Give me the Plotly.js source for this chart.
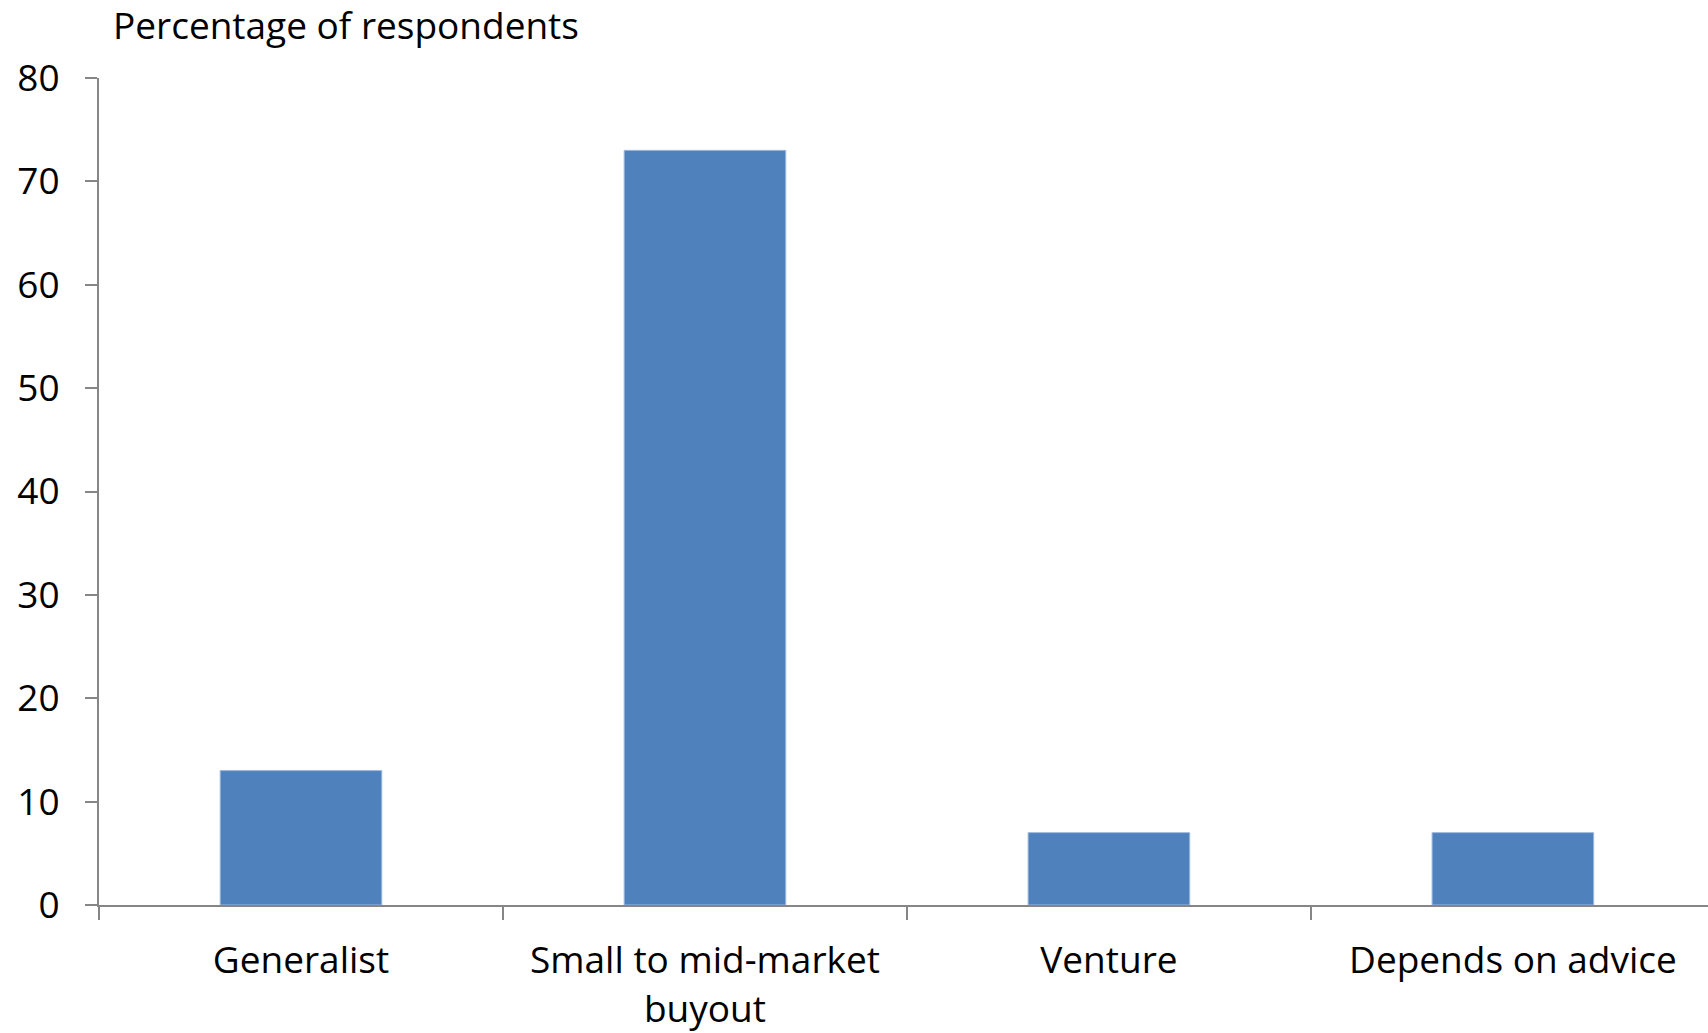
<!DOCTYPE html>
<html>
<head>
<meta charset="utf-8">
<script src="https://cdn.plot.ly/plotly-3.0.1.min.js"></script>
<style>html,body{margin:0;padding:0;background:#fff;}#chart{width:1708px;height:1033px;}</style>
</head>
<body>
<div id="chart"></div>
<script>
const categories = ["Generalist", "Small to mid-market<br>buyout", "Venture", "Depends on advice"];
const percentages = [13, 73, 7, 7];
const yTickValues = [0, 10, 20, 30, 40, 50, 60, 70, 80];
const yAxisLabel = "Percentage of respondents";

const FONT = "'Open Sans', sans-serif";
const trace = {
  type: "bar",
  x: categories,
  y: percentages,
  marker: {color: "#4F81BD", line: {color: "#9DB8DD", width: 1}},
  hoverinfo: "x+y"
};
const layout = {
  width: 1708, height: 1033,
  margin: {l: 99, r: 0, t: 78, b: 128, pad: 0},
  paper_bgcolor: "#ffffff", plot_bgcolor: "#ffffff",
  showlegend: false,
  bargap: 0.6,
  font: {family: FONT, size: 37, color: "#000"},
  xaxis: {
    type: "category",
    range: [-0.5, 3.483],
    showline: true, linecolor: "#868686", linewidth: 2,
    ticks: "outside", tickson: "boundaries", ticklen: 13, tickwidth: 2, tickcolor: "#868686",
    showgrid: false, zeroline: false,
    tickfont: {family: FONT, size: 37, color: "#000"},
    ticklabelstandoff: 22
  },
  yaxis: {
    range: [0, 80],
    tickvals: yTickValues,
    showline: true, linecolor: "#868686", linewidth: 2,
    ticks: "outside", ticklen: 12, tickwidth: 2, tickcolor: "#868686",
    showgrid: false, zeroline: false,
    tickfont: {family: FONT, size: 37, color: "#000"},
    ticklabelstandoff: 18
  },
  annotations: [{
    text: yAxisLabel, xref: "paper", yref: "paper",
    x: 0, y: 1, xshift: 12, yshift: 54,
    xanchor: "left", yanchor: "middle", showarrow: false,
    font: {family: FONT, size: 37, color: "#000"}
  }]
};
Plotly.newPlot("chart", [trace], layout, {displayModeBar: false, staticPlot: true});
</script>
</body>
</html>
